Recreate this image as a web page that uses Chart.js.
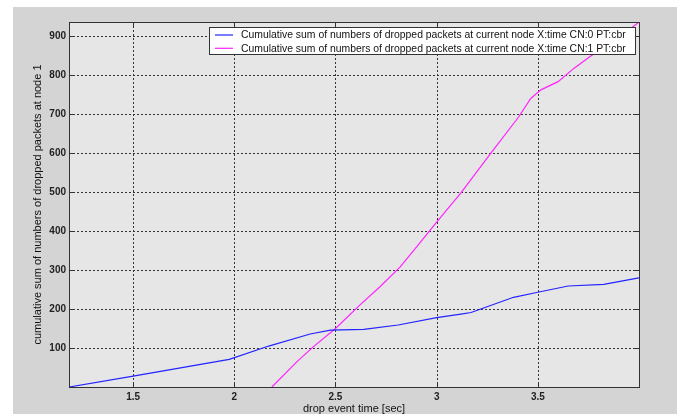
<!DOCTYPE html>
<html>
<head>
<meta charset="utf-8">
<script src="https://cdn.jsdelivr.net/npm/chart.js@4"></script>
<style>
  html, body { margin: 0; padding: 0; background: #fff; }
  #wrap { width: 677px; height: 414px; }
</style>
</head>
<body>
<div id="wrap"><canvas id="dropChart" width="677" height="414"></canvas></div>
<script>
// node 1 drop events
const cn0Time  = [1.183, 1.5, 1.975, 2.17, 2.375, 2.475, 2.64, 2.81, 3.0, 3.12, 3.17, 3.38, 3.5, 3.65, 3.826, 4.0];
const cn0Drops = [0, 28, 71, 105, 136, 146, 148, 159, 178, 187, 191, 230, 243, 259, 263, 280];

const cn1Time  = [2.186, 2.31, 2.39, 2.5, 2.62, 2.72, 2.82, 2.905, 3.0, 3.12, 3.267, 3.406, 3.465, 3.515, 3.6, 3.678, 3.76, 3.9, 4.0];
const cn1Drops = [0, 65, 103, 150, 210, 257, 308, 362, 423, 498, 599, 693, 740, 762, 783, 817, 848, 895, 936];

const xTicks = [1.5, 2, 2.5, 3, 3.5];
const yTicks = [100, 200, 300, 400, 500, 600, 700, 800, 900];

const seriesLabels = [
    'Cumulative sum of numbers of dropped packets at current node X:time CN:0 PT:cbr',
    'Cumulative sum of numbers of dropped packets at current node X:time CN:1 PT:cbr'
];

const toPoints = (xs, ys) => xs.map((x, i) => ({ x: x, y: ys[i] }));

// figure + axes background, dotted grid, inner ticks, box, legend
const matlabLook = {
    id: 'matlabLook',
    beforeDraw(chart) {
        const ctx = chart.ctx;
        const a = chart.chartArea;
        ctx.save();
        ctx.fillStyle = '#ffffff';
        ctx.fillRect(0, 0, chart.width, chart.height);
        ctx.fillStyle = '#d4d4d4';
        ctx.fillRect(13, 7, chart.width - 13, chart.height - 7);
        ctx.fillStyle = '#e6e6e6';
        ctx.fillRect(a.left, a.top, a.right - a.left, a.bottom - a.top);
        ctx.restore();
    },
    beforeDatasetsDraw(chart) {
        const ctx = chart.ctx;
        const a = chart.chartArea;
        const xs = chart.scales.x, ys = chart.scales.y;
        ctx.save();
        ctx.strokeStyle = '#333';
        ctx.lineWidth = 1;
        ctx.setLineDash([2, 2]);
        xTicks.forEach(v => {
            const px = Math.round(xs.getPixelForValue(v)) + 0.5;
            ctx.beginPath(); ctx.moveTo(px, a.top); ctx.lineTo(px, a.bottom); ctx.stroke();
        });
        yTicks.forEach(v => {
            const py = Math.round(ys.getPixelForValue(v)) + 0.5;
            ctx.beginPath(); ctx.moveTo(a.left, py); ctx.lineTo(a.right, py); ctx.stroke();
        });
        ctx.restore();
    },
    afterDraw(chart) {
        const ctx = chart.ctx;
        const a = chart.chartArea;
        const xs = chart.scales.x, ys = chart.scales.y;
        const tl = 5;
        ctx.save();
        ctx.strokeStyle = '#333';
        ctx.lineWidth = 1;
        ctx.setLineDash([]);
        ctx.strokeRect(Math.round(a.left) + 0.5, Math.round(a.top) + 0.5,
                       Math.round(a.right - a.left), Math.round(a.bottom - a.top));
        ctx.beginPath();
        xTicks.forEach(v => {
            const px = Math.round(xs.getPixelForValue(v)) + 0.5;
            ctx.moveTo(px, a.bottom); ctx.lineTo(px, a.bottom - tl);
            ctx.moveTo(px, a.top); ctx.lineTo(px, a.top + tl);
        });
        yTicks.forEach(v => {
            const py = Math.round(ys.getPixelForValue(v)) + 0.5;
            ctx.moveTo(a.left, py); ctx.lineTo(a.left + tl, py);
            ctx.moveTo(a.right, py); ctx.lineTo(a.right - tl, py);
        });
        ctx.stroke();

        // legend box, top right
        const bx = 209.5, by = 27.5, bw = 426, bh = 27;
        ctx.fillStyle = '#ffffff';
        ctx.fillRect(bx, by, bw, bh);
        ctx.strokeStyle = '#333';
        ctx.strokeRect(bx, by, bw, bh);
        ctx.font = '10.4px "Liberation Sans", Arial, sans-serif';
        ctx.textBaseline = 'middle';
        ctx.fillStyle = '#111';
        chart.data.datasets.forEach((ds, i) => {
            const ly = 35 + i * 13.3;
            ctx.strokeStyle = ds.borderColor;
            ctx.lineWidth = 1.2;
            ctx.beginPath(); ctx.moveTo(215, ly); ctx.lineTo(233, ly); ctx.stroke();
            ctx.fillText(ds.label, 241, ly + 0.5);
        });
        ctx.restore();
    }
};

new Chart(document.getElementById('dropChart'), {
    type: 'line',
    data: {
        datasets: [
            {
                label: seriesLabels[0],
                data: toPoints(cn0Time, cn0Drops),
                borderColor: '#2323ff',
                borderWidth: 1.2,
                pointRadius: 0,
                tension: 0,
                fill: false
            },
            {
                label: seriesLabels[1],
                data: toPoints(cn1Time, cn1Drops),
                borderColor: '#ff23ff',
                borderWidth: 1.2,
                pointRadius: 0,
                tension: 0,
                fill: false
            }
        ]
    },
    options: {
        responsive: false,
        animation: false,
        events: [],
        layout: { padding: { left: 31, top: 22, right: 38, bottom: 0 } },
        plugins: {
            legend: { display: false },
            tooltip: { enabled: false }
        },
        scales: {
            x: {
                type: 'linear',
                min: 1.183,
                max: 4.0,
                afterBuildTicks: scale => { scale.ticks = xTicks.map(v => ({ value: v })); },
                afterFit: scale => { scale.height = 27; },
                grid: { display: false, drawTicks: false },
                border: { display: false },
                ticks: {
                    padding: 4,
                    maxRotation: 0,
                    color: '#222',
                    font: { family: '"Liberation Sans", Arial, sans-serif', size: 10, weight: 'bold' },
                    callback: v => String(v)
                },
                title: {
                    display: true,
                    text: 'drop event time [sec]',
                    color: '#111',
                    padding: 0,
                    font: { family: '"Liberation Sans", Arial, sans-serif', size: 11, lineHeight: 1.0 }
                }
            },
            y: {
                min: 0,
                max: 936,
                afterBuildTicks: scale => { scale.ticks = yTicks.map(v => ({ value: v })); },
                afterFit: scale => { scale.width = 38; },
                grid: { display: false, drawTicks: false },
                border: { display: false },
                ticks: {
                    padding: 3,
                    color: '#222',
                    font: { family: '"Liberation Sans", Arial, sans-serif', size: 10, weight: 'bold' },
                    callback: v => String(v)
                },
                title: {
                    display: true,
                    text: 'cumulative sum of numbers of dropped packets at node 1',
                    color: '#111',
                    padding: 0,
                    font: { family: '"Liberation Sans", Arial, sans-serif', size: 11 }
                }
            }
        }
    },
    plugins: [matlabLook]
});
</script>
</body>
</html>
